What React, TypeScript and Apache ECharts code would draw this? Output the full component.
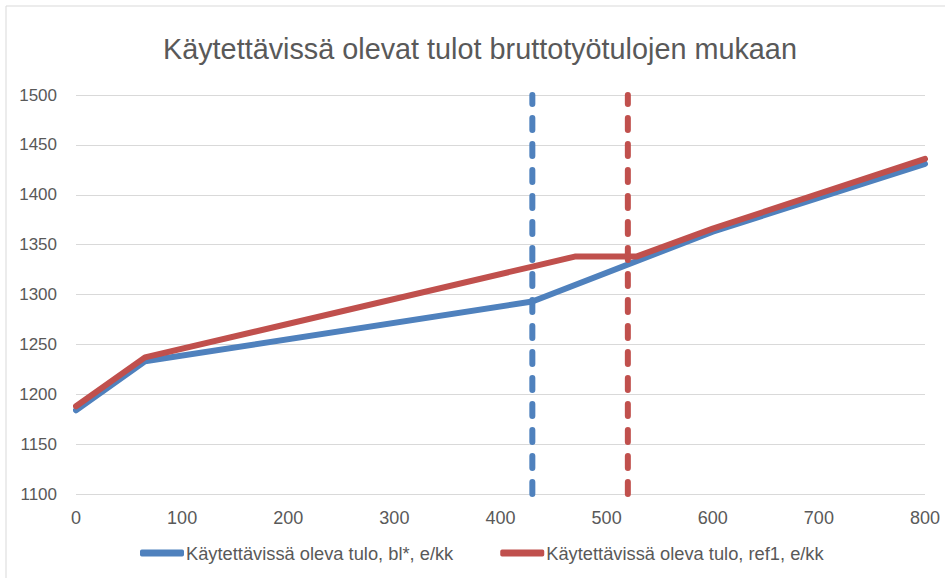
import React, { useEffect, useRef } from "react";
import * as echarts from "echarts";

const titleText = "Käytettävissä olevat tulot bruttotyötulojen mukaan";
const seriesNames = [
  "Käytettävissä oleva tulo, bl*, e/kk",
  "Käytettävissä oleva tulo, ref1, e/kk",
];
const blueX = [0, 65, 430, 600, 800];
const blueY = [1184, 1233, 1293, 1363, 1431];
const redX = [0, 65, 430, 470, 528, 600, 800];
const redY = [1188, 1237, 1328, 1338, 1338, 1366, 1436];
const blueMarkerX = 430;
const redMarkerX = 520;
const yMin = 1100;
const yMax = 1500;
const yStep = 50;
const xMin = 0;
const xMax = 800;
const xStep = 100;

const BLUE = "#4F81BD";
const RED = "#C0504D";
const FONT = "'Liberation Sans', Arial, sans-serif";
const TXT = "#595959";

export default function App() {
  const ref = useRef<HTMLDivElement>(null);
  useEffect(() => {
    if (!ref.current) return;
    const chart = echarts.init(ref.current, undefined, { renderer: "svg" });
    const pair = (xs: number[], ys: number[]) => xs.map((x, i) => [x, ys[i]]);
    chart.setOption({
      animation: false,
      backgroundColor: "#ffffff",
      textStyle: { fontFamily: FONT },
      title: {
        text: titleText,
        left: 158,
        top: 29,
        textStyle: { fontFamily: FONT, fontSize: 28.8, fontWeight: "normal", color: TXT },
      },
      graphic: [
        {
          type: "rect",
          shape: { x: 6, y: 6, width: 960, height: 620 },
          style: { fill: "none", stroke: "#d9d9d9", lineWidth: 1 },
          silent: true,
          z: -1,
        },
      ],
      grid: { left: 76, right: 20, top: 95, bottom: 84, containLabel: false },
      legend: {
        data: seriesNames,
        left: 135,
        top: 539,
        itemGap: 47,
        itemWidth: 44,
        itemHeight: 7,
        icon: "roundRect",
        textStyle: { fontFamily: FONT, fontSize: 18.3, color: TXT, padding: [0, 0, 0, -3] },
      },
      xAxis: {
        type: "value",
        min: xMin,
        max: xMax,
        interval: xStep,
        axisLine: { show: false },
        axisTick: { show: false },
        splitLine: { show: false },
        axisLabel: { fontFamily: FONT, fontSize: 18, color: TXT, margin: 15 },
      },
      yAxis: {
        type: "value",
        min: yMin,
        max: yMax,
        interval: yStep,
        axisLine: { show: false },
        axisTick: { show: false },
        splitLine: { show: true, lineStyle: { color: "#d9d9d9", width: 1 } },
        axisLabel: {
          fontFamily: FONT,
          fontSize: 17,
          color: TXT,
          margin: 19,
          formatter: (v: number) => String(v),
        },
      },
      series: [
        {
          name: seriesNames[0],
          type: "line",
          data: pair(blueX, blueY),
          showSymbol: false,
          color: BLUE,
          lineStyle: { color: BLUE, width: 6, join: "round", cap: "round" },
        },
        {
          name: seriesNames[1],
          type: "line",
          data: pair(redX, redY),
          showSymbol: false,
          color: RED,
          lineStyle: { color: RED, width: 6, join: "round", cap: "round" },
        },
        {
          name: "blueMarker",
          type: "line",
          data: [[blueMarkerX, yMin], [blueMarkerX, yMax]],
          showSymbol: false,
          color: BLUE,
          lineStyle: { color: BLUE, width: 6, type: [12, 14], cap: "round" },
        },
        {
          name: "redMarker",
          type: "line",
          data: [[redMarkerX, yMin], [redMarkerX, yMax]],
          showSymbol: false,
          color: RED,
          lineStyle: { color: RED, width: 6, type: [12, 14], cap: "round" },
        },
      ],
    });
    return () => chart.dispose();
  }, []);
  return (
    <div
      ref={ref}
      style={{ position: "fixed", left: 0, top: 0, width: 945, height: 578 }}
    />
  );
}
